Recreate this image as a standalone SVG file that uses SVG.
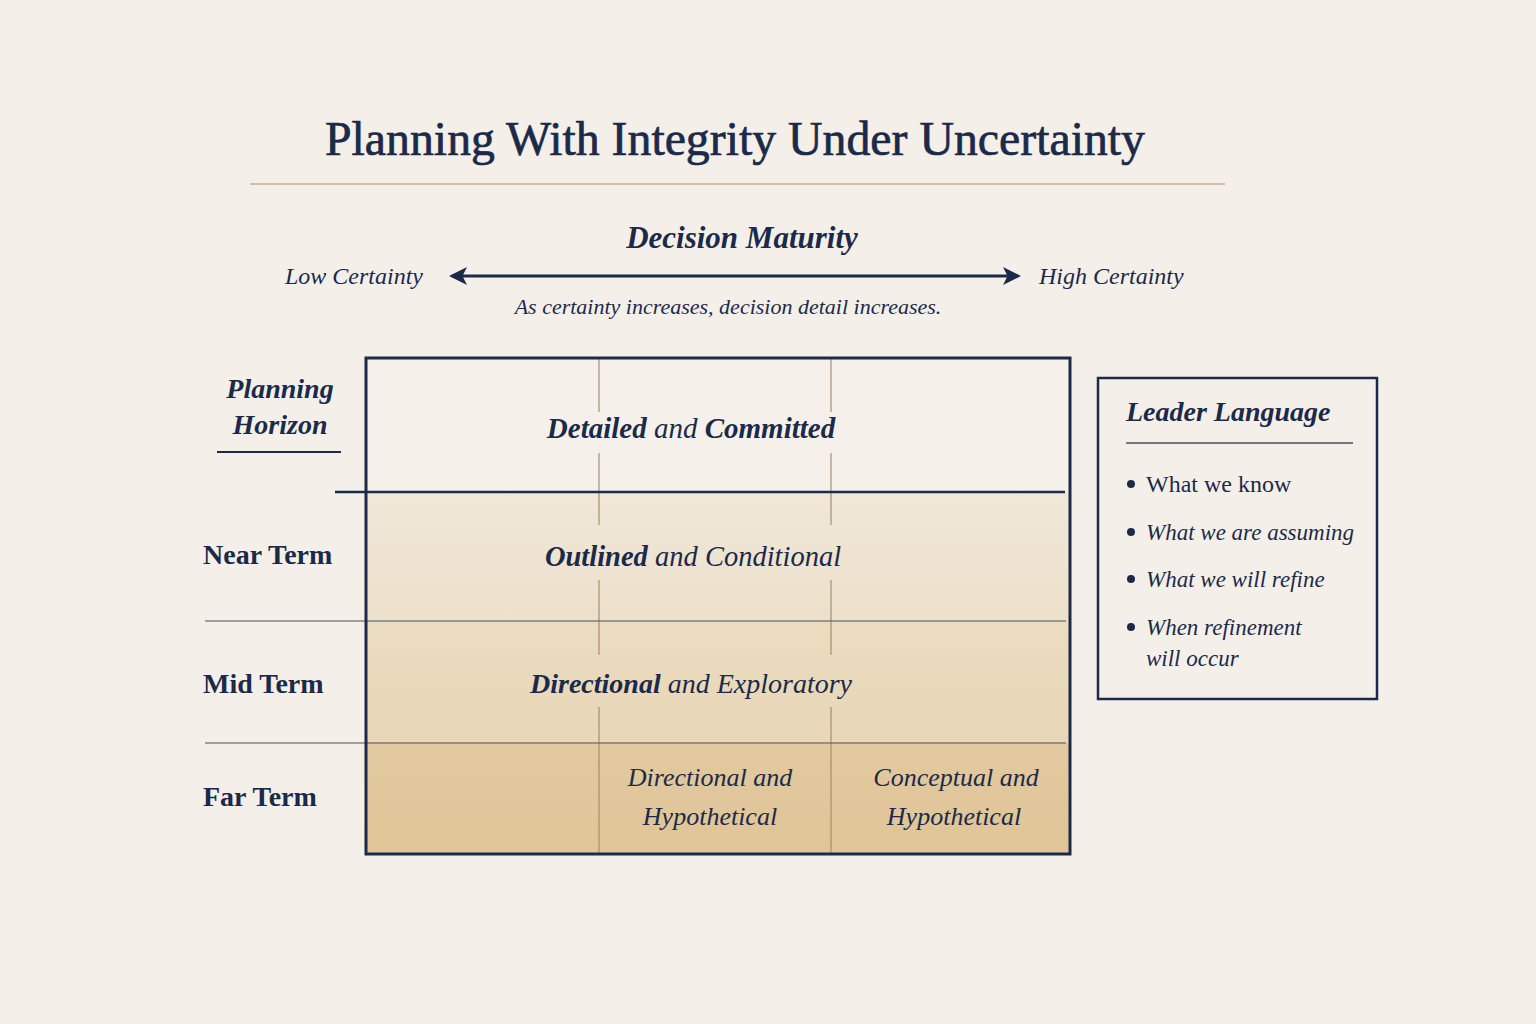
<svg xmlns="http://www.w3.org/2000/svg" width="1536" height="1024" viewBox="0 0 1536 1024">
  <defs>
    <marker id="ah" viewBox="0 0 12 12" refX="10" refY="6" markerWidth="6" markerHeight="6" markerUnits="strokeWidth" orient="auto-start-reverse">
      <path d="M0,0 L12,6 L0,12 L3,6 Z" fill="#1b2a4a"/>
    </marker>
    <linearGradient id="r2" x1="0" y1="0" x2="0" y2="1">
      <stop offset="0" stop-color="#f0e7d8"/>
      <stop offset="1" stop-color="#ede1cb"/>
    </linearGradient>
    <linearGradient id="r3" x1="0" y1="0" x2="0" y2="1">
      <stop offset="0" stop-color="#ebdcc0"/>
      <stop offset="1" stop-color="#e8d7b7"/>
    </linearGradient>
    <linearGradient id="r4" x1="0" y1="0" x2="0" y2="1">
      <stop offset="0" stop-color="#e2c99f"/>
      <stop offset="1" stop-color="#dfc597"/>
    </linearGradient>
  </defs>
  <style>
    .serif { font-family: "Liberation Serif", "DejaVu Serif", serif; fill: #1c2a4a; }
    .title { font-size: 48px; stroke: #1c2a4a; stroke-width: 0.7; }
    .it { font-style: italic; }
    .bi { font-style: italic; font-weight: bold; }
    .b { font-weight: bold; }
    .navy { stroke: #1b2a4a; fill: none; }
    .col { stroke: #a88e6a; stroke-width: 1.2; }
    .thin { stroke: #4a4f5c; stroke-width: 1.2; }
  </style>
  <rect x="0" y="0" width="1536" height="1024" fill="#f4f0e9"/>

  <g id="title">
    <text class="serif title" x="735" y="155" text-anchor="middle" textLength="820" lengthAdjust="spacingAndGlyphs">Planning With Integrity Under Uncertainty</text>
    <line x1="250" y1="184" x2="1225" y2="184" stroke="#c9ad8a" stroke-width="1.3"/>
  </g>

  <g id="axis">
    <text class="serif bi" x="742" y="248" font-size="31" text-anchor="middle">Decision Maturity</text>
    <text class="serif it" x="423" y="284" font-size="24" text-anchor="end">Low Certainty</text>
    <text class="serif it" x="1039" y="284" font-size="24">High Certainty</text>
    <text class="serif it" x="728" y="314" font-size="22" text-anchor="middle">As certainty increases, decision detail increases.</text>
  </g>

  <g id="connectors">
    <line x1="452" y1="276" x2="1018" y2="276" class="navy" stroke-width="3" marker-start="url(#ah)" marker-end="url(#ah)"/>
  </g>

  <g id="grid">
    <rect x="366" y="358" width="704" height="134" fill="#f5f1ea"/>
    <rect x="366" y="492" width="704" height="129" fill="url(#r2)"/>
    <rect x="366" y="621" width="704" height="122" fill="url(#r3)"/>
    <rect x="366" y="743" width="704" height="111" fill="url(#r4)"/>
    <g class="col">
      <line x1="599" y1="358" x2="599" y2="412"/>
      <line x1="599" y1="453" x2="599" y2="525"/>
      <line x1="599" y1="580" x2="599" y2="655"/>
      <line x1="599" y1="707" x2="599" y2="854"/>
      <line x1="831" y1="358" x2="831" y2="412"/>
      <line x1="831" y1="453" x2="831" y2="525"/>
      <line x1="831" y1="580" x2="831" y2="655"/>
      <line x1="831" y1="707" x2="831" y2="854"/>
    </g>
    <line x1="335" y1="492" x2="1065" y2="492" class="navy" stroke-width="2.5"/>
    <line x1="205" y1="621" x2="1066" y2="621" class="thin"/>
    <line x1="205" y1="743" x2="1066" y2="743" class="thin"/>
    <rect x="366" y="358" width="704" height="496" class="navy" stroke-width="3"/>
  </g>

  <g id="row-detailed">
    <text class="serif" x="691" y="438" font-size="29" text-anchor="middle"><tspan class="bi">Detailed</tspan><tspan class="it"> and </tspan><tspan class="bi">Committed</tspan></text>
  </g>
  <g id="row-outlined">
    <text class="serif" x="693" y="566" font-size="28.5" text-anchor="middle"><tspan class="bi">Outlined</tspan><tspan class="it"> and Conditional</tspan></text>
  </g>
  <g id="row-directional">
    <text class="serif" x="691" y="693" font-size="28" text-anchor="middle"><tspan class="bi">Directional</tspan><tspan class="it"> and Exploratory</tspan></text>
  </g>
  <g id="cell-far-mid">
    <text class="serif it" x="710" y="786" font-size="26" text-anchor="middle">Directional and</text>
    <text class="serif it" x="710" y="825" font-size="26" text-anchor="middle">Hypothetical</text>
  </g>
  <g id="cell-far-high">
    <text class="serif it" x="956" y="786" font-size="26" text-anchor="middle">Conceptual and</text>
    <text class="serif it" x="954" y="825" font-size="26" text-anchor="middle">Hypothetical</text>
  </g>

  <g id="horizon-label">
    <text class="serif bi" x="280" y="398" font-size="28" text-anchor="middle">Planning</text>
    <text class="serif bi" x="280" y="434" font-size="28" text-anchor="middle">Horizon</text>
    <line x1="217" y1="452" x2="341" y2="452" class="navy" stroke-width="2"/>
  </g>
  <g id="near-term">
    <text class="serif b" x="203" y="564" font-size="28">Near Term</text>
  </g>
  <g id="mid-term">
    <text class="serif b" x="203" y="693" font-size="28">Mid Term</text>
  </g>
  <g id="far-term">
    <text class="serif b" x="203" y="806" font-size="28">Far Term</text>
  </g>

  <g id="leader-language">
    <rect x="1098" y="378" width="279" height="321" class="navy" stroke-width="2.5" fill="#f5f1ea"/>
    <text class="serif bi" x="1126" y="421" font-size="28">Leader Language</text>
    <line x1="1126" y1="443" x2="1353" y2="443" stroke="#4a4f5c" stroke-width="1.5"/>
    <g fill="#1c2a4a">
      <circle cx="1131" cy="484" r="4"/>
      <circle cx="1131" cy="532" r="4"/>
      <circle cx="1131" cy="579" r="4"/>
      <circle cx="1131" cy="627" r="4"/>
    </g>
    <text class="serif" x="1146" y="492" font-size="24">What we know</text>
    <text class="serif it" x="1146" y="540" font-size="23">What we are assuming</text>
    <text class="serif it" x="1146" y="587" font-size="23">What we will refine</text>
    <text class="serif it" x="1146" y="635" font-size="23">When refinement</text>
    <text class="serif it" x="1146" y="666" font-size="23">will occur</text>
  </g>
</svg>
